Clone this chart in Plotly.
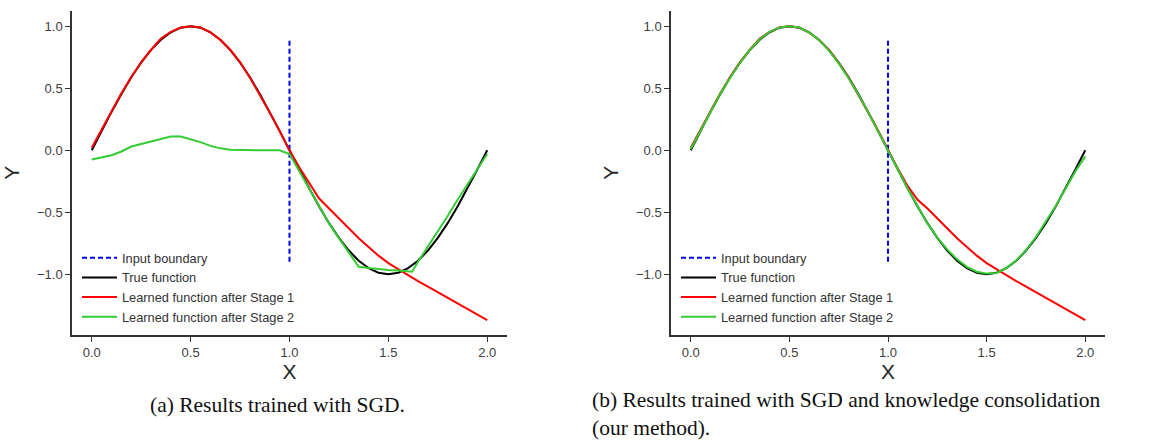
import plotly.graph_objects as go

# ---------------- data ----------------
x_grid = [0.0, 0.05, 0.10, 0.15, 0.20, 0.25, 0.30, 0.35, 0.40, 0.45, 0.50,
          0.55, 0.60, 0.65, 0.70, 0.75, 0.80, 0.85, 0.90, 0.95, 1.00,
          1.05, 1.10, 1.15, 1.20, 1.25, 1.30, 1.35, 1.40, 1.45, 1.50,
          1.55, 1.60, 1.65, 1.70, 1.75, 1.80, 1.85, 1.90, 1.95, 2.00]

true_y = [0.0, 0.156, 0.309, 0.454, 0.588, 0.707, 0.809, 0.891, 0.951, 0.988, 1.0,
          0.988, 0.951, 0.891, 0.809, 0.707, 0.588, 0.454, 0.309, 0.156, 0.0,
          -0.156, -0.309, -0.454, -0.588, -0.707, -0.809, -0.891, -0.951, -0.988, -1.0,
          -0.988, -0.951, -0.891, -0.809, -0.707, -0.588, -0.454, -0.309, -0.156, 0.0]

# (a) SGD
sgd_stage1 = [0.02, 0.17, 0.32, 0.46, 0.59, 0.71, 0.81, 0.90, 0.955, 0.99, 1.0,
              0.99, 0.95, 0.89, 0.81, 0.71, 0.585, 0.45, 0.305, 0.155, 0.0,
              -0.14, -0.27, -0.39, -0.47, -0.55, -0.63, -0.71, -0.78, -0.85, -0.91,
              -0.96, -1.01, -1.055, -1.10, -1.145, -1.19, -1.235, -1.28, -1.325, -1.37]
sgd_stage2_x = [0.0, 0.05, 0.10, 0.15, 0.20, 0.25, 0.30, 0.35, 0.40, 0.45, 0.50,
                0.55, 0.60, 0.65, 0.70, 0.75, 0.80, 0.85, 0.90, 0.95, 1.00,
                1.05, 1.10, 1.15, 1.20, 1.25, 1.30, 1.35, 1.40, 1.45, 1.50,
                1.55, 1.62, 1.65, 1.70, 1.75, 1.80, 1.85, 1.90, 1.95, 2.00]
sgd_stage2 = [-0.075, -0.06, -0.04, -0.01, 0.03, 0.05, 0.07, 0.095, 0.11, 0.11, 0.09,
              0.065, 0.035, 0.015, 0.003, 0.0, 0.0, 0.0, 0.0, 0.0, -0.03,
              -0.17, -0.31, -0.45, -0.59, -0.71, -0.82, -0.94, -0.95, -0.96, -0.965,
              -0.97, -0.98, -0.90, -0.78, -0.65, -0.53, -0.40, -0.28, -0.16, -0.03]

# (b) SGD + knowledge consolidation
kc_stage1 = [0.02, 0.17, 0.32, 0.46, 0.59, 0.71, 0.81, 0.90, 0.955, 0.99, 1.0,
             0.99, 0.95, 0.89, 0.81, 0.705, 0.585, 0.45, 0.305, 0.155, 0.0,
             -0.15, -0.29, -0.40, -0.47, -0.55, -0.63, -0.71, -0.78, -0.85, -0.91,
             -0.96, -1.01, -1.055, -1.10, -1.145, -1.19, -1.235, -1.28, -1.325, -1.37]
kc_stage2 = [0.01, 0.16, 0.31, 0.455, 0.585, 0.705, 0.81, 0.895, 0.955, 0.99, 1.0,
             0.99, 0.95, 0.89, 0.805, 0.70, 0.58, 0.45, 0.305, 0.155, 0.0,
             -0.155, -0.31, -0.455, -0.59, -0.705, -0.80, -0.88, -0.94, -0.98, -0.995,
             -0.99, -0.95, -0.89, -0.805, -0.70, -0.58, -0.45, -0.31, -0.17, -0.05]

boundary_x = [1.0, 1.0]
boundary_y = [-0.9, 0.9]

x_ticks = [0.0, 0.5, 1.0, 1.5, 2.0]
x_tick_text = ["0.0", "0.5", "1.0", "1.5", "2.0"]
y_ticks = [-1.0, -0.5, 0.0, 0.5, 1.0]
y_tick_text = ["\u22121.0", "\u22120.5", "0.0", "0.5", "1.0"]

names = ["Input boundary", "True function",
         "Learned function after Stage 1", "Learned function after Stage 2"]
captions = ["(a) Results trained with SGD.",
            "(b) Results trained with SGD and knowledge consolidation",
            "(our method)."]

# ---------------- figure ----------------
W, H = 1164, 443
fig = go.Figure()

panels = [
    dict(xa="x", ya="y", leg="legend", s1=sgd_stage1, s2x=sgd_stage2_x, s2=sgd_stage2),
    dict(xa="x2", ya="y2", leg="legend2", s1=kc_stage1, s2x=x_grid, s2=kc_stage2),
]
for p in panels:
    fig.add_trace(go.Scatter(x=boundary_x, y=boundary_y, mode="lines", name=names[0],
                             line=dict(color="#0000ff", width=2, dash="5px,3px"),
                             xaxis=p["xa"], yaxis=p["ya"], legend=p["leg"]))
    fig.add_trace(go.Scatter(x=x_grid, y=true_y, mode="lines", name=names[1],
                             line=dict(color="#000000", width=2),
                             xaxis=p["xa"], yaxis=p["ya"], legend=p["leg"]))
    fig.add_trace(go.Scatter(x=x_grid, y=p["s1"], mode="lines", name=names[2],
                             line=dict(color="#ff0000", width=2),
                             xaxis=p["xa"], yaxis=p["ya"], legend=p["leg"]))
    fig.add_trace(go.Scatter(x=p["s2x"], y=p["s2"], mode="lines", name=names[3],
                             line=dict(color="#33cc33", width=2),
                             xaxis=p["xa"], yaxis=p["ya"], legend=p["leg"]))

axis_col = "#333333"
tick_font = dict(family="Liberation Sans, Arial, sans-serif", size=13, color="#404040")
title_font = dict(family="Liberation Sans, Arial, sans-serif", size=21, color="#262626")

def xaxis(domain, anchor):
    return dict(domain=domain, anchor=anchor, range=[-0.1, 2.1], automargin=False,
                tickvals=x_ticks, ticktext=x_tick_text, ticks="outside", ticklen=5,
                tickwidth=1.25, tickcolor=axis_col, showline=True, linecolor=axis_col,
                linewidth=1.5, showgrid=False, zeroline=False, tickfont=tick_font,
                title=dict(text="X", font=title_font, standoff=2))

def yaxis(anchor):
    return dict(domain=[1 - 335 / H, 1 - 10.7 / H], anchor=anchor, range=[-1.49, 1.125],
                automargin=False,
                tickvals=y_ticks, ticktext=y_tick_text, ticks="outside", ticklen=5,
                tickwidth=1.25, tickcolor=axis_col, showline=True, linecolor=axis_col,
                linewidth=1.5, showgrid=False, zeroline=False, tickfont=tick_font,
                title=dict(text="Y", font=title_font, standoff=12))

legend_common = dict(font=dict(family="Liberation Sans, Arial, sans-serif", size=12.8,
                               color="#333333"),
                     bgcolor="rgba(0,0,0,0)", borderwidth=0, itemwidth=35,
                     xanchor="left", yanchor="top", tracegroupgap=0)

fig.update_layout(
    width=W, height=H,
    margin=dict(l=0, r=0, t=0, b=0, autoexpand=False),
    paper_bgcolor="white", plot_bgcolor="white",
    xaxis=xaxis([72 / W, 507 / W], "y"),
    yaxis=yaxis("x"),
    xaxis2=xaxis([671 / W, 1105 / W], "y2"),
    yaxis2=yaxis("x2"),
    legend=dict(x=77 / W, y=1 - 243 / H, **legend_common),
    legend2=dict(x=676 / W, y=1 - 243 / H, **legend_common),
    showlegend=True,
)

cap_font = dict(family="Liberation Serif, DejaVu Serif, serif", size=21.5, color="#111111")
fig.add_annotation(text=captions[0], x=277 / W, y=1 - 405 / H, xref="paper", yref="paper",
                   xanchor="center", yanchor="middle", showarrow=False, font=cap_font)
fig.add_annotation(text=captions[1] + "<br>" + captions[2], x=591 / W, y=1 - 414 / H,
                   xref="paper", yref="paper", xanchor="left", yanchor="middle",
                   align="left", showarrow=False, font=cap_font, borderpad=0)

fig.write_html("out.html", config={"displayModeBar": False},
               post_script="document.body.style.margin='0px';")
